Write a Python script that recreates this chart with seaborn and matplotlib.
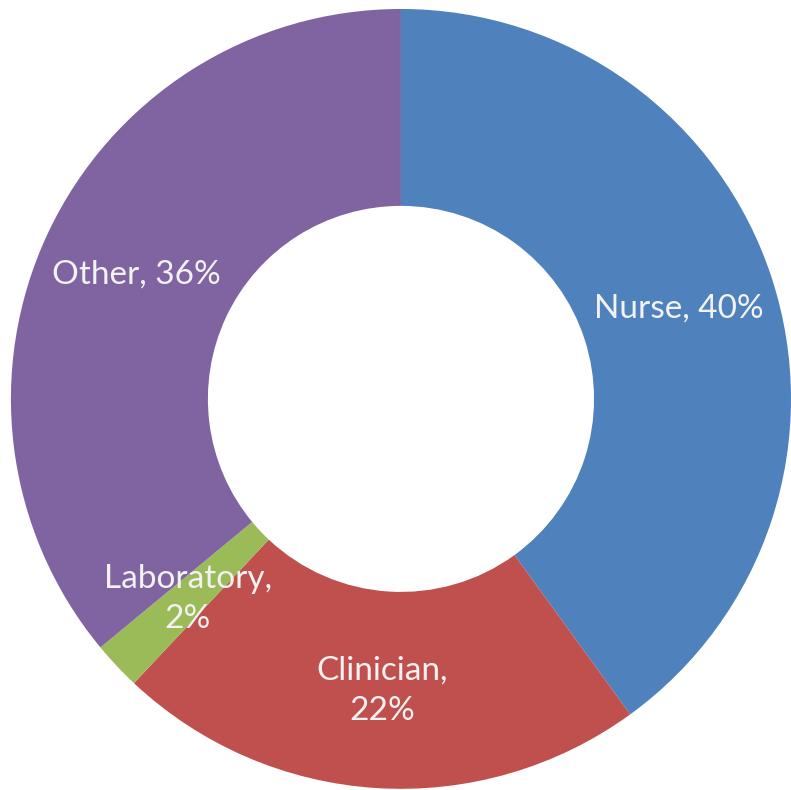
import matplotlib
matplotlib.use("Agg")
import matplotlib.pyplot as plt
import seaborn as sns

# Staff category shares (%)
categories = ["Nurse", "Clinician", "Laboratory", "Other"]
values = [40, 22, 2, 36]
separators = [", ", ",\n", ",\n", ", "]
colors = ["#4F81BD", "#C0504D", "#9BBB59", "#8064A2"]

sns.set_theme(style="white")
plt.rcParams["font.family"] = ["Lato", "DejaVu Sans"]

labels = [c + s + str(v) + "%" for c, s, v in zip(categories, separators, values)]

fig = plt.figure(figsize=(7.91, 7.90), dpi=100)
ax = fig.add_axes([0, 0, 1, 1])

ax.pie(
    values,
    labels=labels,
    colors=sns.color_palette(colors),
    startangle=90,
    counterclock=False,
    labeldistance=0.75,
    wedgeprops=dict(width=0.505, linewidth=0),
    textprops=dict(color="#F2F2F2", fontsize=24, ha="center", va="center",
                   linespacing=1.45),
)

ax.set_xlim(-1.028, 1.0)
ax.set_ylim(-1.003, 1.023)
ax.set_aspect("auto")
ax.axis("off")

fig.savefig("out.png", dpi=100)
